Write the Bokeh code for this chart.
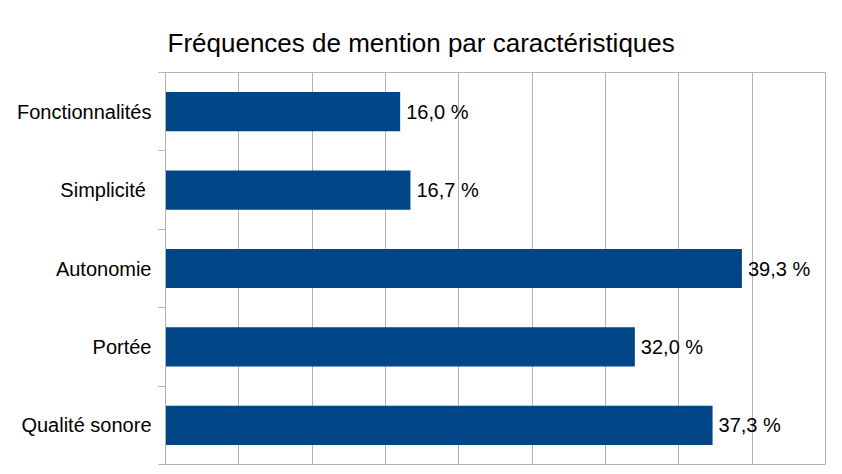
from bokeh.plotting import figure
from bokeh.models import ColumnDataSource, FixedTicker, Range1d
from bokeh.core.properties import value
from bokeh.embed import file_html
from bokeh.resources import INLINE

# categories from top to bottom, share of mentions in %
categories = ["Fonctionnalités", "Simplicité ", "Autonomie", "Portée", "Qualité sonore"]
shares = [16.0, 16.7, 39.3, 32.0, 37.3]
x_ticks = [0, 5, 10, 15, 20, 25, 30, 35, 40, 45]

FONT = "Liberation Sans"
GREY = "#b3b3b3"
BLUE = "#004586"

n = len(categories)
ypos = [n - i - 0.5 for i in range(n)]
labels = ["{0:.1f} %".format(v).replace(".", ",") for v in shares]

src = ColumnDataSource(data=dict(y=ypos, share=shares, label=labels))

p = figure(width=834, height=466,
           x_range=Range1d(0, 45), y_range=Range1d(0, n),
           output_backend="svg", toolbar_location=None,
           min_border_left=165, min_border_right=9,
           min_border_top=72, min_border_bottom=2)

p.title.text = "Fréquences de mention par caractéristiques"
p.title.text_font = FONT
p.title.text_font_size = "26px"
p.title.text_font_style = "normal"
p.title.text_color = "black"
p.title.offset = 2
p.title.standoff = 30

p.hbar(y="y", left=0, right="share", height=0.5, source=src,
       fill_color=BLUE, line_color=None)
p.text(x="share", y="y", text="label", source=src, x_offset=6,
       text_font=value(FONT), text_font_size="20px",
       text_baseline="middle", text_align="left", text_color="black")

# x axis is not shown, only its vertical grid lines
p.xaxis.visible = False
p.xgrid.ticker = FixedTicker(ticks=x_ticks)
p.xgrid.grid_line_color = GREY
p.ygrid.visible = False
p.outline_line_color = GREY

# labels at the middle of each band, small ticks at band borders
yax = p.yaxis[0]
yax.ticker = FixedTicker(ticks=ypos, minor_ticks=list(range(n + 1)))
yax.major_label_overrides = {y: c for y, c in zip(ypos, categories)}
yax.major_tick_line_color = None
yax.major_tick_out = 0
yax.major_tick_in = 0
yax.minor_tick_out = 7
yax.minor_tick_in = 0
yax.minor_tick_line_color = GREY
yax.axis_line_color = GREY
yax.major_label_standoff = 7
yax.major_label_text_font = FONT
yax.major_label_text_font_size = "20px"
yax.major_label_text_color = "black"

open("out.html", "w").write(file_html(p, INLINE))
